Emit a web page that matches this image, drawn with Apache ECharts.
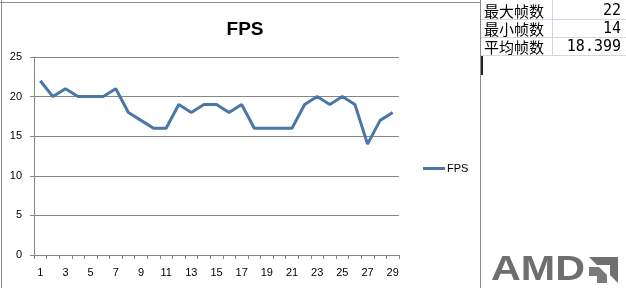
<!DOCTYPE html>
<html><head><meta charset="utf-8">
<script src="https://cdn.jsdelivr.net/npm/echarts@6/dist/echarts.min.js"></script>
<style>html,body{margin:0;padding:0;background:#fff}#c{width:626px;height:288px}</style>
</head><body><div id="c"></div>
<script>
const categories = ['1','2','3','4','5','6','7','8','9','10','11','12','13','14','15','16','17','18','19','20','21','22','23','24','25','26','27','28','29'];
const fpsValues = [22,20,21,20,20,20,21,18,17,16,16,19,18,19,19,18,19,16,16,16,16,19,20,19,20,19,14,17,18];
const yTicks = [0,5,10,15,20,25];
const tableLabels = ['最大帧数','最小帧数','平均帧数'];
const tableValues = ['22','14','18.399'];

const chart = echarts.init(document.getElementById('c'));
const gfx = [
  {type:'line', shape:{x1:1.5,y1:0,x2:1.5,y2:288}, style:{stroke:'#8c8c8c',lineWidth:1}},
  {type:'line', shape:{x1:0,y1:2.5,x2:480,y2:2.5}, style:{stroke:'#8c8c8c',lineWidth:1}},
  {type:'line', shape:{x1:480.5,y1:0,x2:480.5,y2:288}, style:{stroke:'#8c8c8c',lineWidth:1}},
  {type:'line', shape:{x1:552.5,y1:0,x2:552.5,y2:55}, style:{stroke:'#d0d7e5',lineWidth:1}},
  {type:'line', shape:{x1:481,y1:19.5,x2:626,y2:19.5}, style:{stroke:'#d0d7e5',lineWidth:1}},
  {type:'line', shape:{x1:481,y1:37.5,x2:626,y2:37.5}, style:{stroke:'#d0d7e5',lineWidth:1}},
  {type:'line', shape:{x1:481,y1:55.5,x2:626,y2:55.5}, style:{stroke:'#d0d7e5',lineWidth:1}},
  {type:'rect', shape:{x:481,y:56,width:2,height:19}, style:{fill:'#222'}}
];
tableLabels.forEach((t,i)=>{
  gfx.push({type:'text', style:{text:t, x:484, y:11+i*18, fill:'#000', font:'15px "Noto Sans CJK SC"', textVerticalAlign:'middle'}});
  gfx.push({type:'text', style:{text:tableValues[i], x:621, y:11+i*18, fill:'#000', font:'15px "DejaVu Sans Mono"', textAlign:'right', textVerticalAlign:'middle'}});
});
gfx.push({type:'text', x:491, y:270, scaleX:1.18, style:{text:'AMD', x:0, y:0, fill:'#6e6e6e', font:'bold 35px "Liberation Sans"', textVerticalAlign:'middle'}});
gfx.push({type:'polygon', shape:{points:[[589,257],[618,257],[618,283],[610,275],[610,265],[597,265]]}, style:{fill:'#707070'}});
gfx.push({type:'polygon', shape:{points:[[589,267],[599,267],[607,275],[607,283],[597,283],[597,276],[589,276]]}, style:{fill:'#7a7a7a'}});

chart.setOption({
  animation:false,
  title:{text:'FPS', left:240, textAlign:'center', top:15, textStyle:{fontFamily:'"Liberation Sans"', fontWeight:'bold', fontSize:19, color:'#000'}},
  legend:{data:['FPS'], left:418, top:158, itemWidth:22, itemHeight:3, itemGap:4, icon:'rect',
    textStyle:{fontFamily:'"Liberation Sans"', fontSize:11, color:'#000', padding:[0,0,0,-3]}},
  grid:{left:34, right:227, top:57, bottom:33},
  xAxis:{type:'category', data:categories, boundaryGap:true,
    axisLine:{lineStyle:{color:'#868686'}},
    axisTick:{show:true, interval:0, length:4, lineStyle:{color:'#868686'}},
    axisLabel:{interval:1, color:'#000', fontFamily:'"Liberation Sans"', fontSize:11, margin:12}},
  yAxis:{type:'value', min:0, max:25, interval:5,
    axisLine:{show:true, lineStyle:{color:'#868686'}},
    axisTick:{show:true, length:4, lineStyle:{color:'#868686'}},
    splitLine:{lineStyle:{color:'#868686'}},
    axisLabel:{color:'#000', fontFamily:'"Liberation Sans"', fontSize:11, margin:12}},
  series:[{name:'FPS', type:'line', data:fpsValues, symbol:'none', lineStyle:{color:'#4a76a8', width:3}, itemStyle:{color:'#4a76a8'}}],
  graphic:gfx
});
</script></body></html>
